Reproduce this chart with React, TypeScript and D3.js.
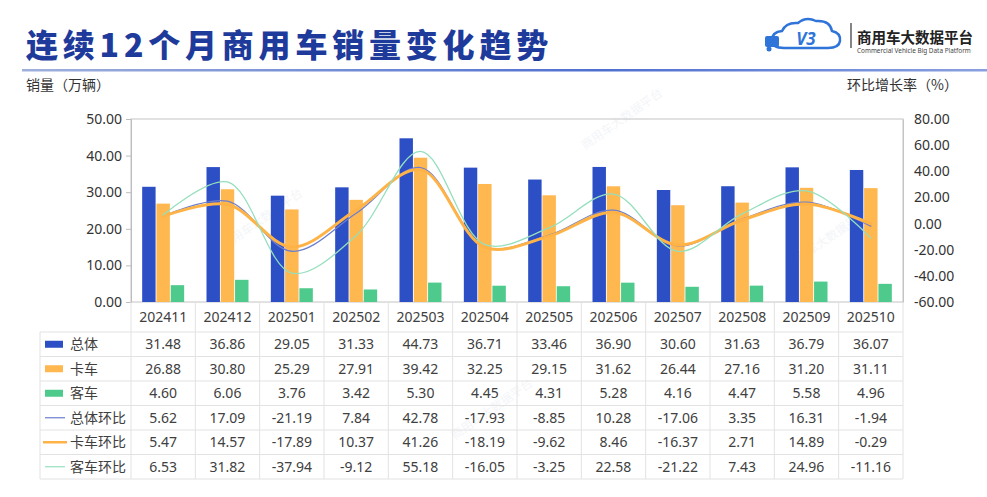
import { useEffect, useRef } from "react";
import * as d3 from "d3";

const MONTHS = [
  "202411", "202412", "202501", "202502", "202503", "202504",
  "202505", "202506", "202507", "202508", "202509", "202510",
];

const TOTAL = [31.48, 36.86, 29.05, 31.33, 44.73, 36.71, 33.46, 36.9, 30.6, 31.63, 36.79, 36.07];
const TRUCK = [26.88, 30.8, 25.29, 27.91, 39.42, 32.25, 29.15, 31.62, 26.44, 27.16, 31.2, 31.11];
const BUS = [4.6, 6.06, 3.76, 3.42, 5.3, 4.45, 4.31, 5.28, 4.16, 4.47, 5.58, 4.96];

const TOTAL_MOM = [5.62, 17.09, -21.19, 7.84, 42.78, -17.93, -8.85, 10.28, -17.06, 3.35, 16.31, -1.94];
const TRUCK_MOM = [5.47, 14.57, -17.89, 10.37, 41.26, -18.19, -9.62, 8.46, -16.37, 2.71, 14.89, -0.29];
const BUS_MOM = [6.53, 31.82, -37.94, -9.12, 55.18, -16.05, -3.25, 22.58, -21.22, 7.43, 24.96, -11.16];

const LEFT_TICKS = [0, 10, 20, 30, 40, 50];
const RIGHT_TICKS = [-60, -40, -20, 0, 20, 40, 60, 80];

const BAR_SERIES = [
  { name: "总体", values: TOTAL, color: "#2d4fc6" },
  { name: "卡车", values: TRUCK, color: "#ffb74f" },
  { name: "客车", values: BUS, color: "#4fca8d" },
];

const LINE_SERIES = [
  { name: "总体环比", values: TOTAL_MOM, color: "#6d7fcf", width: 1.3 },
  { name: "卡车环比", values: TRUCK_MOM, color: "#ffb347", width: 3 },
  { name: "客车环比", values: BUS_MOM, color: "#95dfbd", width: 1.3 },
];

const FONT = "'Noto Sans', 'Noto Sans CJK SC', sans-serif";
const CJK = "'Noto Sans CJK SC', 'Noto Sans', sans-serif";

// plain hyphen for negatives, like the source
const fmt = (v: number) => d3.format(".2f")(v).replace("\u2212", "-");

export default function App() {
  const svgRef = useRef<SVGSVGElement>(null);

  useEffect(() => {
    if (!svgRef.current) return;
    const svg = d3.select(svgRef.current);
    svg.selectAll("*").remove();

    const W = 987;
    const H = 497;
    const plot = { left: 131, right: 903, top: 119, bottom: 302 };
    const tableLeft = 40;
    const headerBottom = 332;
    const rowH = 24.5;

    svg.attr("width", W).attr("height", H);
    svg.append("rect").attr("width", W).attr("height", H).attr("fill", "#fff");

    // title
    svg.append("text")
      .attr("x", 26).attr("y", 57)
      .attr("font-family", CJK).attr("font-weight", 900)
      .attr("font-size", "32px").attr("letter-spacing", "4.8px")
      .attr("fill", "#1e3b9c")
      .text("连续12个月商用车销量变化趋势");

    const defs = svg.append("defs");
    const grad = defs.append("linearGradient").attr("id", "titleLine");
    grad.append("stop").attr("offset", "0%").attr("stop-color", "#9fb0dc");
    grad.append("stop").attr("offset", "60%").attr("stop-color", "#4f6fd0");
    grad.append("stop").attr("offset", "100%").attr("stop-color", "#8aa0e0");
    svg.append("rect")
      .attr("x", 22).attr("y", 69).attr("width", W - 22).attr("height", 2.5)
      .attr("fill", "url(#titleLine)");

    // logo
    const logo = svg.append("g");
    logo.append("path")
      .attr("d", "M784,48 Q772,48 772,40 Q772,32 782,31 Q786,22 798,23 Q806,16 816,21 Q830,20 832,31 Q841,33 840,41 Q839,48 828,48 Z")
      .attr("fill", "none").attr("stroke", "#2f74d8").attr("stroke-width", 2.5);
    logo.append("rect").attr("x", 765).attr("y", 36).attr("width", 14).attr("height", 11).attr("rx", 2).attr("fill", "#2f74d8");
    logo.append("circle").attr("cx", 769).attr("cy", 49).attr("r", 2.5).attr("fill", "#2f74d8");
    logo.append("text")
      .attr("x", 806).attr("y", 45).attr("text-anchor", "middle")
      .attr("font-family", FONT).attr("font-style", "italic").attr("font-weight", 700)
      .attr("font-size", "17px").attr("fill", "#2f74d8")
      .text("V3");
    logo.append("line")
      .attr("x1", 851).attr("x2", 851).attr("y1", 23).attr("y2", 48)
      .attr("stroke", "#333").attr("stroke-width", 1.2);
    logo.append("text")
      .attr("x", 857).attr("y", 43)
      .attr("font-family", CJK).attr("font-weight", 700)
      .attr("font-size", "14.5px").attr("fill", "#222")
      .text("商用车大数据平台");
    logo.append("text")
      .attr("x", 857).attr("y", 53)
      .attr("font-family", FONT).attr("font-size", "6.4px").attr("fill", "#444")
      .text("Commercial Vehicle Big Data Platform");

    // axis titles
    svg.append("text")
      .attr("x", 26).attr("y", 90)
      .attr("font-family", CJK).attr("font-size", "14px").attr("fill", "#333")
      .text("销量（万辆）");
    svg.append("text")
      .attr("x", 958).attr("y", 90).attr("text-anchor", "end")
      .attr("font-family", CJK).attr("font-size", "14px").attr("fill", "#333")
      .text("环比增长率（%）");

    // watermarks
    [[225, 250], [585, 150], [790, 270], [455, 440]].forEach(([wx, wy]) => {
      svg.append("text")
        .attr("transform", `translate(${wx},${wy}) rotate(-35)`)
        .attr("font-family", CJK).attr("font-size", "12px")
        .attr("fill", "#c4cede").attr("opacity", 0.2)
        .text("商用车大数据平台");
    });

    const x = d3.scaleBand<string>().domain(MONTHS).range([plot.left, plot.right]);
    const sub = d3.scaleBand<string>()
      .domain(BAR_SERIES.map((s) => s.name))
      .range([-21, 21])
      .paddingInner(0.06);
    const yL = d3.scaleLinear().domain([0, 50]).range([plot.bottom, plot.top]);
    const yR = d3.scaleLinear().domain([-60, 80]).range([plot.bottom, plot.top]);

    // plot frame
    svg.append("rect")
      .attr("x", plot.left).attr("y", plot.top)
      .attr("width", plot.right - plot.left).attr("height", plot.bottom - plot.top)
      .attr("fill", "none").attr("stroke", "#c4c4c4").attr("stroke-width", 1);

    // bars
    BAR_SERIES.forEach((s) => {
      svg.append("g").selectAll("rect")
        .data(s.values)
        .join("rect")
        .attr("x", (_, i) => (x(MONTHS[i]) ?? 0) + x.bandwidth() / 2 + (sub(s.name) ?? 0))
        .attr("y", (d) => yL(d))
        .attr("width", sub.bandwidth())
        .attr("height", (d) => plot.bottom - yL(d))
        .attr("fill", s.color);
    });

    // lines
    const line = d3.line<number>()
      .x((_, i) => (x(MONTHS[i]) ?? 0) + x.bandwidth() / 2)
      .y((d) => yR(d))
      .curve(d3.curveCatmullRom.alpha(0.5));

    LINE_SERIES.forEach((s) => {
      svg.append("path").datum(s.values)
        .attr("fill", "none").attr("stroke", s.color)
        .attr("stroke-width", s.width).attr("stroke-linecap", "round")
        .attr("d", line);
    });

    // axes
    const left = svg.append("g")
      .attr("transform", `translate(${plot.left},0)`)
      .call(d3.axisLeft(yL).tickValues(LEFT_TICKS).tickFormat((v) => fmt(+v)).tickSize(5).tickPadding(4));
    left.select(".domain").attr("stroke", "#bdbdbd");
    left.selectAll(".tick line").attr("stroke", "#bdbdbd");
    left.selectAll("text").attr("font-family", FONT).attr("font-size", "14px").attr("fill", "#333");

    const right = svg.append("g")
      .attr("transform", `translate(${plot.right},0)`)
      .call(d3.axisRight(yR).tickValues(RIGHT_TICKS).tickFormat((v) => fmt(+v)).tickSize(0).tickPadding(11));
    right.select(".domain").attr("stroke", "#c4c4c4");
    right.selectAll("text").attr("font-family", FONT).attr("font-size", "14px").attr("fill", "#333");

    // data table
    const grid = "#e2e2e2";
    const rows = [...BAR_SERIES, ...LINE_SERIES];
    const tableBottom = headerBottom + rows.length * rowH;
    const tg = svg.append("g");

    tg.selectAll("line.v")
      .data(d3.range(MONTHS.length + 1))
      .join("line")
      .attr("x1", (i) => plot.left + i * x.step()).attr("x2", (i) => plot.left + i * x.step())
      .attr("y1", plot.bottom).attr("y2", tableBottom)
      .attr("stroke", grid);
    tg.append("line")
      .attr("x1", tableLeft).attr("x2", tableLeft)
      .attr("y1", headerBottom).attr("y2", tableBottom)
      .attr("stroke", grid);

    tg.selectAll("line.h")
      .data(d3.range(rows.length + 1))
      .join("line")
      .attr("x1", tableLeft).attr("x2", plot.right)
      .attr("y1", (i) => headerBottom + i * rowH).attr("y2", (i) => headerBottom + i * rowH)
      .attr("stroke", grid);

    tg.selectAll("text.m")
      .data(MONTHS)
      .join("text")
      .attr("x", (d) => (x(d) ?? 0) + x.bandwidth() / 2)
      .attr("y", (plot.bottom + headerBottom) / 2 + 5)
      .attr("text-anchor", "middle")
      .attr("font-family", FONT).attr("font-size", "14px").attr("fill", "#404040")
      .text((d) => d);

    rows.forEach((r, ri) => {
      const cy = headerBottom + ri * rowH + rowH / 2;
      if (ri < BAR_SERIES.length) {
        tg.append("rect")
          .attr("x", 45).attr("y", cy - 3.5).attr("width", 18).attr("height", 7)
          .attr("fill", r.color);
      } else {
        const lw = (r as { width: number }).width;
        tg.append("line")
          .attr("x1", lw > 2 ? 43 : 45).attr("x2", lw > 2 ? 67 : 65)
          .attr("y1", cy).attr("y2", cy)
          .attr("stroke", r.color).attr("stroke-width", lw > 2 ? 2.5 : 1.2);
      }
      tg.append("text")
        .attr("x", 70).attr("y", cy + 5)
        .attr("font-family", CJK).attr("font-size", "14px").attr("fill", "#404040")
        .text(r.name);
      tg.selectAll(null)
        .data(r.values)
        .join("text")
        .attr("x", (_, i) => (x(MONTHS[i]) ?? 0) + x.bandwidth() / 2)
        .attr("y", cy + 5)
        .attr("text-anchor", "middle")
        .attr("font-family", FONT).attr("font-size", "14px").attr("fill", "#404040")
        .text((d) => fmt(d));
    });
  }, []);

  return (
    <svg
      ref={svgRef}
      style={{ position: "absolute", left: 0, top: 0 }}
      role="img"
      aria-label="连续12个月商用车销量变化趋势"
    />
  );
}
